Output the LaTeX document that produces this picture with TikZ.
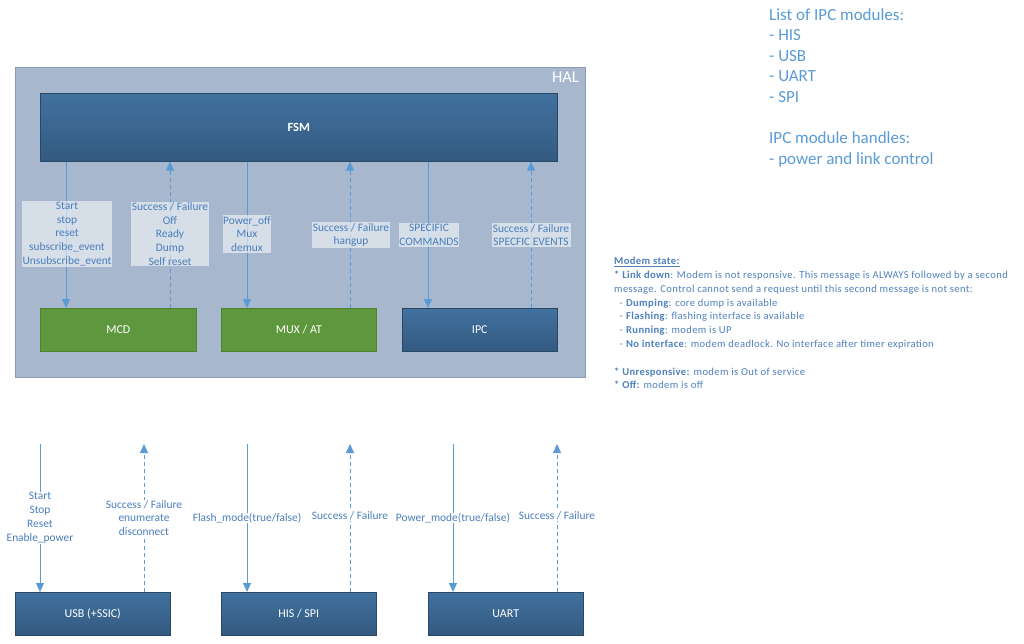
\documentclass[tikz,border=0pt]{standalone}
\usepackage{fontspec}
\setmainfont{Carlito}
\usetikzlibrary{arrows.meta,calc}
\definecolor{halfill}{HTML}{A6B7CE}
\definecolor{halborder}{HTML}{8A9BB3}
\definecolor{blueboxtop}{HTML}{41719F}
\definecolor{blueboxbot}{HTML}{335A80}
\definecolor{greenbox}{HTML}{5E973D}
\definecolor{greenborder}{HTML}{4E8231}
\definecolor{arrowc}{HTML}{5B9BD5}
\definecolor{lbltext}{HTML}{4A7EBB}
\definecolor{notetext}{HTML}{5B9BD5}
\definecolor{modemtext}{HTML}{4F81BD}
\tikzset{
  x=1pt, y=-1pt,
  bluemod/.style={draw=blueboxbot!80!black, line width=0.6pt, top color=blueboxtop, bottom color=blueboxbot, text=white, inner sep=0pt, font=\fontsize{12}{14}\selectfont},
  greenmod/.style={draw=greenborder, line width=0.6pt, fill=greenbox, text=white, inner sep=0pt, font=\fontsize{12}{14}\selectfont},
  solidarr/.style={draw=arrowc, line width=0.8pt, -{Triangle[width=8pt,length=9pt]}},
  dasharr/.style={draw=arrowc, line width=0.8pt, dash pattern=on 4pt off 3pt, -{Triangle[width=8pt,length=9pt]}},
  lblbox/.style={fill=white, fill opacity=0.55, text opacity=1, text=lbltext, align=center, inner xsep=0.5pt, inner ysep=1pt, font=\fontsize{11.4}{13.7}\selectfont},
  lblplain/.style={fill=white, text=lbltext, align=center, inner xsep=0.5pt, inner ysep=0.5pt, font=\fontsize{11.4}{13.9}\selectfont},
}
\begin{document}
\begin{tikzpicture}
\useasboundingbox (0,0) rectangle (1024,643);
\fill[white] (0,0) rectangle (1024,643);

% HAL container
\node[draw=halborder, fill=halfill, line width=0.6pt, minimum width=570pt, minimum height=310pt, inner sep=0pt, anchor=north west] (hal) at (15,67) {};
\node[text=white, font=\fontsize{16.5}{18}\selectfont, anchor=north east, inner sep=1pt] (haltxt) at (580,71) {HAL};

% modules
\node[bluemod, minimum width=517pt, minimum height=68pt, anchor=north west, font=\fontsize{12.5}{14}\bfseries\selectfont] (fsm) at (40,93) {FSM};
\node[greenmod, minimum width=156pt, minimum height=43pt, anchor=north west] (mcd) at (40,308) {MCD};
\node[greenmod, minimum width=155pt, minimum height=43pt, anchor=north west] (mux) at (221,308) {MUX / AT};
\node[bluemod, minimum width=155pt, minimum height=43pt, anchor=north west] (ipc) at (402,308) {IPC};

\node[bluemod, minimum width=155pt, minimum height=43pt, anchor=north west] (usb) at (15,592) {USB (+SSIC)};
\node[bluemod, minimum width=155pt, minimum height=43pt, anchor=north west] (his) at (221,592) {HIS / SPI};
\node[bluemod, minimum width=155pt, minimum height=43pt, anchor=north west] (uart) at (428,592) {UART};

% arrow x positions
\coordinate (c1) at (66,0);
\coordinate (c2) at (170,0);
\coordinate (c3) at (247,0);
\coordinate (c4) at (350,0);
\coordinate (c5) at (428,0);
\coordinate (c6) at (531,0);
\coordinate (d1) at (40,444);
\coordinate (d2) at (144,444);
\coordinate (d3) at (247,444);
\coordinate (d4) at (350,444);
\coordinate (d5) at (453,444);
\coordinate (d6) at (557,444);

% HAL arrows
\draw[solidarr] (fsm.south -| c1) -- (mcd.north -| c1);
\draw[dasharr] (mcd.north -| c2) -- (fsm.south -| c2);
\draw[solidarr] (fsm.south -| c3) -- (mux.north -| c3);
\draw[dasharr] (mux.north -| c4) -- (fsm.south -| c4);
\draw[solidarr] (fsm.south -| c5) -- (ipc.north -| c5);
\draw[dasharr] (ipc.north -| c6) -- (fsm.south -| c6);

% HAL labels
\node[lblbox, minimum width=90pt] (l1) at (67,234) {Start\\stop\\reset\\subscribe\_event\\Unsubscribe\_event};
\node[lblbox, minimum width=77pt] (l2) at (170,234) {Success / Failure\\Off\\Ready\\Dump\\Self reset};
\node[lblbox, minimum width=48pt] (l3) at (247,234) {Power\_off\\Mux\\demux};
\node[lblbox, minimum width=76pt] (l4) at (351,235) {Success / Failure\\hangup};
\node[lblbox, minimum width=59pt] (l5) at (429,235) {SPECIFIC\\COMMANDS};
\node[lblbox, minimum width=79pt] (l6) at (531,235) {Success / Failure\\SPECFIC EVENTS};

% bottom arrows
\draw[solidarr] (d1) -- (usb.north -| d1);
\draw[dasharr] (usb.north -| d2) -- (d2);
\draw[solidarr] (d3) -- (his.north -| d3);
\draw[dasharr] (his.north -| d4) -- (d4);
\draw[solidarr] (d5) -- (uart.north -| d5);
\draw[dasharr] (uart.north -| d6) -- (d6);

% bottom labels
\node[lblplain] (b1) at (40,518) {Start\\Stop\\Reset\\Enable\_power};
\node[lblplain] (b2) at (144,518) {Success / Failure\\enumerate\\disconnect};
\node[lblplain] (b3) at (247,518) {Flash\_mode(true/false)};
\node[lblplain] (b4) at (350,516) {Success / Failure};
\node[lblplain] (b5) at (453,518) {Power\_mode(true/false)};
\node[lblplain] (b6) at (557,516) {Success / Failure};

% notes
\node[anchor=north west, text=notetext, align=left, inner sep=0pt, font=\fontsize{17}{20.6}\selectfont] (notes) at (769,8) {List of IPC modules:\\- HIS\\- USB\\- UART\\- SPI\\[20.6pt]IPC module handles:\\- power and link control};

\node[anchor=north west, text=modemtext, align=left, inner sep=0pt, font=\fontsize{10.6}{13.8}\selectfont\addfontfeature{LetterSpace=3.5}] (modem) at (614,257) {\textbf{\underline{Modem state:}}\\
\textbf{* Link down}: Modem is not responsive. This message is ALWAYS followed by a second\\
message. Control cannot send a request until this second message is not sent:\\
\ \ - \textbf{Dumping}: core dump is available\\
\ \ - \textbf{Flashing}: flashing interface is available\\
\ \ - \textbf{Running}: modem is UP\\
\ \ - \textbf{No interface}: modem deadlock. No interface after timer expiration\\[13.8pt]
\textbf{* Unresponsive:} modem is Out of service\\
\textbf{* Off:} modem is off};
\end{tikzpicture}
\end{document}
